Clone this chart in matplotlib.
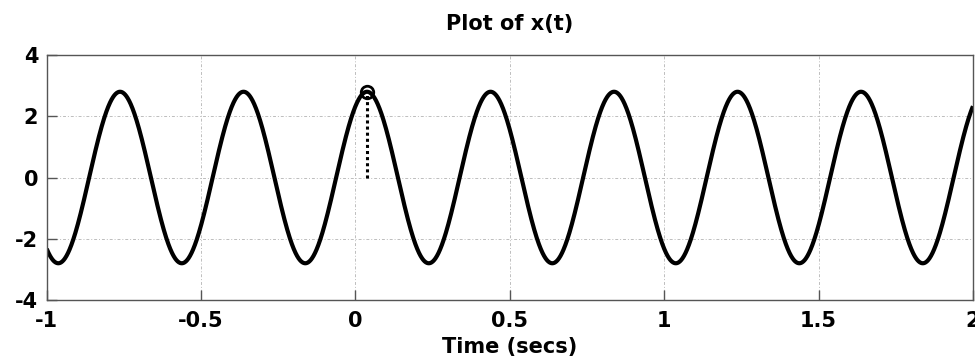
import numpy as np
import matplotlib
matplotlib.use("Agg")
import matplotlib.pyplot as plt

# Values
amplitude = 2.8          # peak value of x(t)
frequency_hz = 2.5       # period 0.4 s
peak_time = 0.0375       # time of the marked peak (secs)
t_limits = [-1, 2]
y_limits = [-4, 4]
x_ticks = [-1, -0.5, 0, 0.5, 1, 1.5, 2]
x_tick_labels = ["-1", "-0.5", "0", "0.5", "1", "1.5", "2"]
y_ticks = [-4, -2, 0, 2, 4]
y_tick_labels = ["-4", "-2", "0", "2", "4"]
title_text = "Plot of x(t)"
xlabel_text = "Time (secs)"

t = np.linspace(t_limits[0], t_limits[1], 3001)
x = amplitude * np.cos(2 * np.pi * frequency_hz * (t - peak_time))

fig = plt.figure(figsize=(9.75, 3.64), dpi=100)
ax = fig.add_axes([0.0479, 0.1758, 0.9500, 0.6731])

ax.plot(t, x, color="black", linewidth=3.0, solid_capstyle="butt")
ax.plot([peak_time, peak_time], [0, amplitude], color="black", linestyle=(0, (1, 1)), linewidth=2.2)
ax.plot([peak_time], [amplitude], marker="o", markersize=9, markerfacecolor="none",
        markeredgecolor="black", markeredgewidth=2.0)

ax.set_xlim(t_limits)
ax.set_ylim(y_limits)
ax.set_xticks(x_ticks)
ax.set_xticklabels(x_tick_labels)
ax.set_yticks(y_ticks)
ax.set_yticklabels(y_tick_labels)

font = dict(family="DejaVu Sans", weight="bold", size=15)
for lab in ax.get_xticklabels() + ax.get_yticklabels():
    lab.set_fontfamily("DejaVu Sans")
    lab.set_fontweight("bold")
    lab.set_fontsize(15)

ax.tick_params(direction="in", length=7, width=1, color="#555555", pad=6)
ax.tick_params(axis="x", pad=8)
ax.grid(True, color="#bdbdbd", linestyle=(0, (3, 2, 1, 2)), linewidth=0.7)
ax.set_axisbelow(True)
for sp in ax.spines.values():
    sp.set_color("#555555")
    sp.set_linewidth(1.0)

ax.set_title(title_text, fontdict=font, pad=18)
ax.set_xlabel(xlabel_text, fontdict=font, labelpad=4)

fig.savefig("out.png", dpi=100, facecolor="white")
